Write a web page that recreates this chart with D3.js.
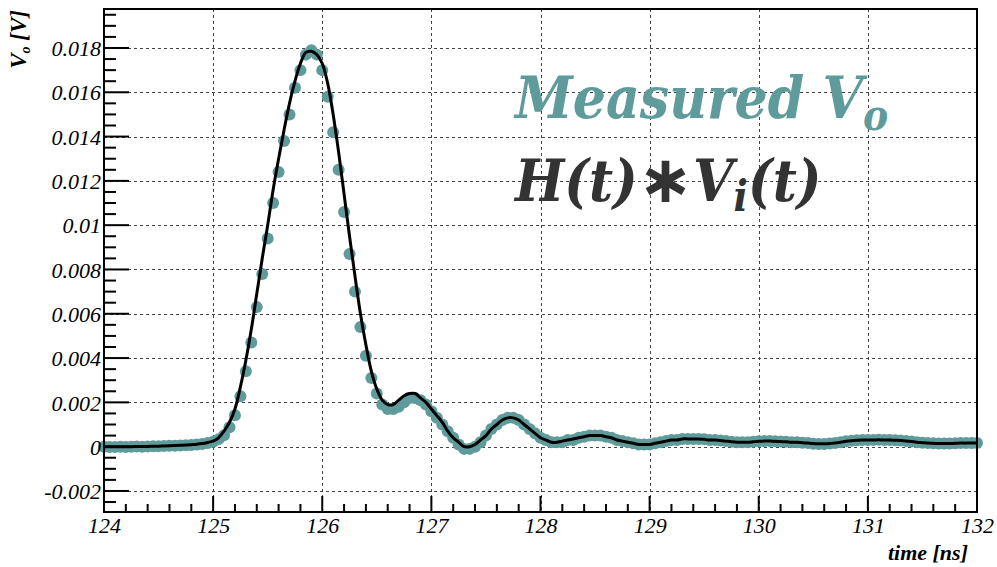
<!DOCTYPE html>
<html>
<head>
<meta charset="utf-8">
<script src="https://cdn.jsdelivr.net/npm/d3@7"></script>
<style>
  body { margin: 0; background: #fff; }
  svg { display: block; }
  .serif { font-family: "Liberation Serif", "Times New Roman", Tinos, "DejaVu Serif", serif; font-style: italic; }
</style>
</head>
<body>
<svg id="chart" width="997" height="567"></svg>
<script>
// sampling of the scope trace: 20 GS/s starting at 124 ns
const t0 = 124;
const dt = 0.05;

// measured output voltage V_o [V], one value every 50 ps
const measured = [
  0.00000, -0.00002, -0.00001, 0.00000, -0.00001, 0.00000, 0.00001, 0.00000, 0.00001, 0.00002,
  0.00002, 0.00003, 0.00004, 0.00004, 0.00005, 0.00006, 0.00008, 0.00010, 0.00012, 0.00016,
  // 125
  0.00022, 0.00034, 0.00052, 0.00088, 0.00142, 0.00228, 0.0034, 0.0047, 0.0063, 0.0078,
  0.0094, 0.0110, 0.0124, 0.0138, 0.0150, 0.0162, 0.0170, 0.0177, 0.0179, 0.0177,
  // 126
  0.0170, 0.0158, 0.0142, 0.0125, 0.0106, 0.0087, 0.0070, 0.0054, 0.0041, 0.0031,
  0.0024, 0.0019, 0.0017, 0.0017, 0.0018, 0.0020, 0.0022, 0.0022, 0.0021, 0.0019,
  // 127
  0.0016, 0.0013, 0.0010, 0.0007, 0.0004, 0.0001, -0.0001, -0.0001, 0.0000, 0.0002,
  0.0005, 0.0008, 0.0010, 0.0012, 0.0013, 0.0013, 0.0012, 0.0010, 0.0008, 0.0006,
  // 128
  0.0004, 0.0003, 0.0002, 0.0002, 0.0002, 0.0003, 0.0003, 0.0004, 0.00045, 0.0005,
  0.0005, 0.0005, 0.00045, 0.0004, 0.0003, 0.00025, 0.0002, 0.00015, 0.0001, 0.0001,
  // 129
  0.0001, 0.00015, 0.0002, 0.00025, 0.0003, 0.0003, 0.00035, 0.00035, 0.00035, 0.00035,
  0.00033, 0.0003, 0.0003, 0.00028, 0.00025, 0.00022, 0.0002, 0.0002, 0.0002, 0.00022,
  // 130
  0.00024, 0.00025, 0.00025, 0.00024, 0.00023, 0.00022, 0.0002, 0.0002, 0.00018, 0.00016,
  0.00013, 0.00012, 0.00012, 0.00014, 0.00017, 0.0002, 0.00024, 0.00027, 0.00029, 0.0003,
  // 131
  0.0003, 0.0003, 0.00031, 0.0003, 0.0003, 0.00029, 0.00028, 0.00026, 0.00023, 0.0002,
  0.00018, 0.00016, 0.00015, 0.00014, 0.00014, 0.00014, 0.00015, 0.00016, 0.00016, 0.00017,
  // 132
  0.00017
];

// H(t) * V_i(t) convolution result, same time grid
const model = [
  0.00000, 0.00000, 0.00000, 0.00000, 0.00000, 0.00000, 0.00001, 0.00001, 0.00001, 0.00002,
  0.00002, 0.00003, 0.00004, 0.00005, 0.00006, 0.00007, 0.00009, 0.00011, 0.00014, 0.00019,
  // 125
  0.00025, 0.0004, 0.0007, 0.0011, 0.0017, 0.0027, 0.0039, 0.0053, 0.0069, 0.0085,
  0.0100, 0.0116, 0.0130, 0.0143, 0.0155, 0.0165, 0.0173, 0.0178, 0.01785, 0.0177,
  // 126
  0.0173, 0.0164, 0.0150, 0.0133, 0.0114, 0.0095, 0.0077, 0.0060, 0.0046, 0.0034,
  0.0026, 0.0021, 0.0019, 0.0019, 0.0021, 0.0023, 0.0024, 0.0024, 0.0022, 0.0020,
  // 127
  0.0017, 0.0014, 0.0011, 0.0007, 0.0004, 0.0002, 0.0000, 0.0000, 0.0001, 0.0003,
  0.0005, 0.0008, 0.0010, 0.0012, 0.0013, 0.0013, 0.0012, 0.0010, 0.0008, 0.0006,
  // 128
  0.0004, 0.0003, 0.0002, 0.0002, 0.00025, 0.0003, 0.00035, 0.0004, 0.00045, 0.0005,
  0.0005, 0.0005, 0.00045, 0.0004, 0.0003, 0.00025, 0.0002, 0.00015, 0.0001, 0.0001,
  // 129
  0.0001, 0.00015, 0.0002, 0.00025, 0.0003, 0.0003, 0.00035, 0.00035, 0.00035, 0.00035,
  0.00033, 0.0003, 0.0003, 0.00028, 0.00025, 0.00022, 0.0002, 0.0002, 0.0002, 0.00022,
  // 130
  0.00024, 0.00025, 0.00025, 0.00024, 0.00023, 0.00022, 0.0002, 0.0002, 0.00018, 0.00016,
  0.00014, 0.00013, 0.00013, 0.00014, 0.00017, 0.0002, 0.00024, 0.00027, 0.00029, 0.0003,
  // 131
  0.0003, 0.0003, 0.00031, 0.0003, 0.0003, 0.00029, 0.00028, 0.00026, 0.00023, 0.0002,
  0.00018, 0.00016, 0.00015, 0.00014, 0.00014, 0.00014, 0.00015, 0.00016, 0.00016, 0.00017,
  // 132
  0.00017
];

const xTicks = [124, 125, 126, 127, 128, 129, 130, 131, 132];
const yTicks = [-0.002, 0, 0.002, 0.004, 0.006, 0.008, 0.01, 0.012, 0.014, 0.016, 0.018];
const xDomain = [124, 132];
const yDomain = [-0.00295, 0.01976];

const markerColor = '#5f9b9b';
const frame = { left: 104, right: 977, top: 9, bottom: 512 };

const svg = d3.select('#chart');
svg.append('rect').attr('width', 997).attr('height', 567).attr('fill', '#fff');

const x = d3.scaleLinear().domain(xDomain).range([frame.left, frame.right]);
const y = d3.scaleLinear().domain(yDomain).range([frame.bottom, frame.top]);

const measPts = measured.map((v, i) => ({ t: t0 + i * dt, v }));
const modelPts = model.map((v, i) => ({ t: t0 + i * dt, v }));

// grid
const grid = svg.append('g')
  .attr('stroke', '#444')
  .attr('stroke-width', 1)
  .attr('stroke-dasharray', '3,3');
grid.selectAll('.gx')
  .data(xTicks.filter(d => d > xDomain[0] && d < xDomain[1]))
  .join('line')
    .attr('class', 'gx')
    .attr('x1', d => Math.round(x(d)) + 0.5).attr('x2', d => Math.round(x(d)) + 0.5)
    .attr('y1', frame.top).attr('y2', frame.bottom);
grid.selectAll('.gy')
  .data(yTicks)
  .join('line')
    .attr('class', 'gy')
    .attr('x1', frame.left).attr('x2', frame.right)
    .attr('y1', d => Math.round(y(d)) + 0.5).attr('y2', d => Math.round(y(d)) + 0.5);

// measured points
svg.append('g')
  .attr('fill', markerColor)
  .selectAll('circle')
  .data(measPts)
  .join('circle')
    .attr('cx', d => x(d.t))
    .attr('cy', d => y(d.v))
    .attr('r', 6);

// convolution curve
const line = d3.line()
  .x(d => x(d.t))
  .y(d => y(d.v))
  .curve(d3.curveCatmullRom);

svg.append('path')
  .datum(modelPts)
  .attr('fill', 'none')
  .attr('stroke', '#000')
  .attr('stroke-width', 3)
  .attr('stroke-linejoin', 'round')
  .attr('d', line);

// frame
svg.append('rect')
  .attr('x', frame.left).attr('y', frame.top)
  .attr('width', frame.right - frame.left).attr('height', frame.bottom - frame.top)
  .attr('fill', 'none')
  .attr('stroke', '#000')
  .attr('stroke-width', 2);

// x axis ticks (5 divisions per ns)
const xMinor = d3.range(xDomain[0], xDomain[1] + 1e-9, 0.2);
const tickG = svg.append('g').attr('stroke', '#000').attr('stroke-width', 2);
tickG.selectAll('.xt')
  .data(xMinor)
  .join('line')
    .attr('class', 'xt')
    .attr('x1', d => x(d)).attr('x2', d => x(d))
    .attr('y1', frame.bottom)
    .attr('y2', d => frame.bottom - (Math.abs(d - Math.round(d)) < 1e-6 ? 16 : 8));

// y axis ticks (4 divisions per major)
const yMinor = d3.range(-0.0025, yDomain[1], 0.0005);
tickG.selectAll('.yt')
  .data(yMinor)
  .join('line')
    .attr('class', 'yt')
    .attr('y1', d => y(d)).attr('y2', d => y(d))
    .attr('x1', frame.left)
    .attr('x2', d => frame.left + (Math.abs(d / 0.002 - Math.round(d / 0.002)) < 1e-6 ? 25 : 12));

// tick labels
const xAxis = d3.axisBottom(x)
  .tickValues(xTicks)
  .tickSize(0)
  .tickFormat(d3.format('d'));
svg.append('g')
  .attr('transform', `translate(0,${frame.bottom})`)
  .call(xAxis)
  .attr('font-family', null)
  .attr('font-size', null)
  .call(g => g.select('.domain').remove())
  .call(g => g.selectAll('text')
    .attr('class', 'serif')
    .attr('dy', 0)
    .attr('y', 21)
    .attr('fill', '#000')
    .style('font-size', '22px'));

const yAxis = d3.axisLeft(y)
  .tickValues(yTicks)
  .tickSize(0)
  .tickFormat(d => String(+d.toFixed(4)));
svg.append('g')
  .attr('transform', `translate(${frame.left},0)`)
  .call(yAxis)
  .attr('font-family', null)
  .attr('font-size', null)
  .call(g => g.select('.domain').remove())
  .call(g => g.selectAll('text')
    .attr('class', 'serif')
    .attr('x', -3)
    .attr('dy', '0.35em')
    .attr('fill', '#000')
    .style('font-size', '22px'));

// axis titles
svg.append('text')
  .attr('class', 'serif')
  .attr('x', 968).attr('y', 560)
  .attr('text-anchor', 'end')
  .style('font-weight', 'bold')
  .style('font-size', '22px')
  .text('time [ns]');

const yTitle = svg.append('text')
  .attr('class', 'serif')
  .attr('transform', 'translate(26,10) rotate(-90)')
  .attr('text-anchor', 'end')
  .style('font-weight', 'bold')
  .style('font-size', '23px');
yTitle.append('tspan').text('V');
yTitle.append('tspan').style('font-size', '14px').attr('dy', 4).text('o');
yTitle.append('tspan').attr('dy', -4).text(' [V]');

// legend text
const legendFont = '"DejaVu Serif Condensed", "DejaVu Serif", serif';
const leg1 = svg.append('text')
  .attr('x', 515).attr('y', 118)
  .attr('fill', markerColor)
  .style('font-family', legendFont)
  .style('font-style', 'italic')
  .style('font-weight', 'bold')
  .style('font-size', '58px');
leg1.append('tspan').text('Measured V');
leg1.append('tspan').style('font-size', '42px').attr('dy', 12).text('o');

const leg2 = svg.append('text')
  .attr('x', 515).attr('y', 201)
  .attr('fill', '#333')
  .style('font-family', legendFont)
  .style('font-style', 'italic')
  .style('font-weight', 'bold')
  .style('font-size', '58px');
leg2.append('tspan').text('H(t)');
leg2.append('tspan').style('font-family', '"DejaVu Sans", sans-serif')
  .style('font-style', 'normal').style('font-size', '66px').attr('dy', 1).text('\u2217');
leg2.append('tspan').attr('dy', -1).text('V');
leg2.append('tspan').style('font-size', '42px').attr('dy', 10).text('i');
leg2.append('tspan').attr('dy', -10).text('(t)');
</script>
</body>
</html>
